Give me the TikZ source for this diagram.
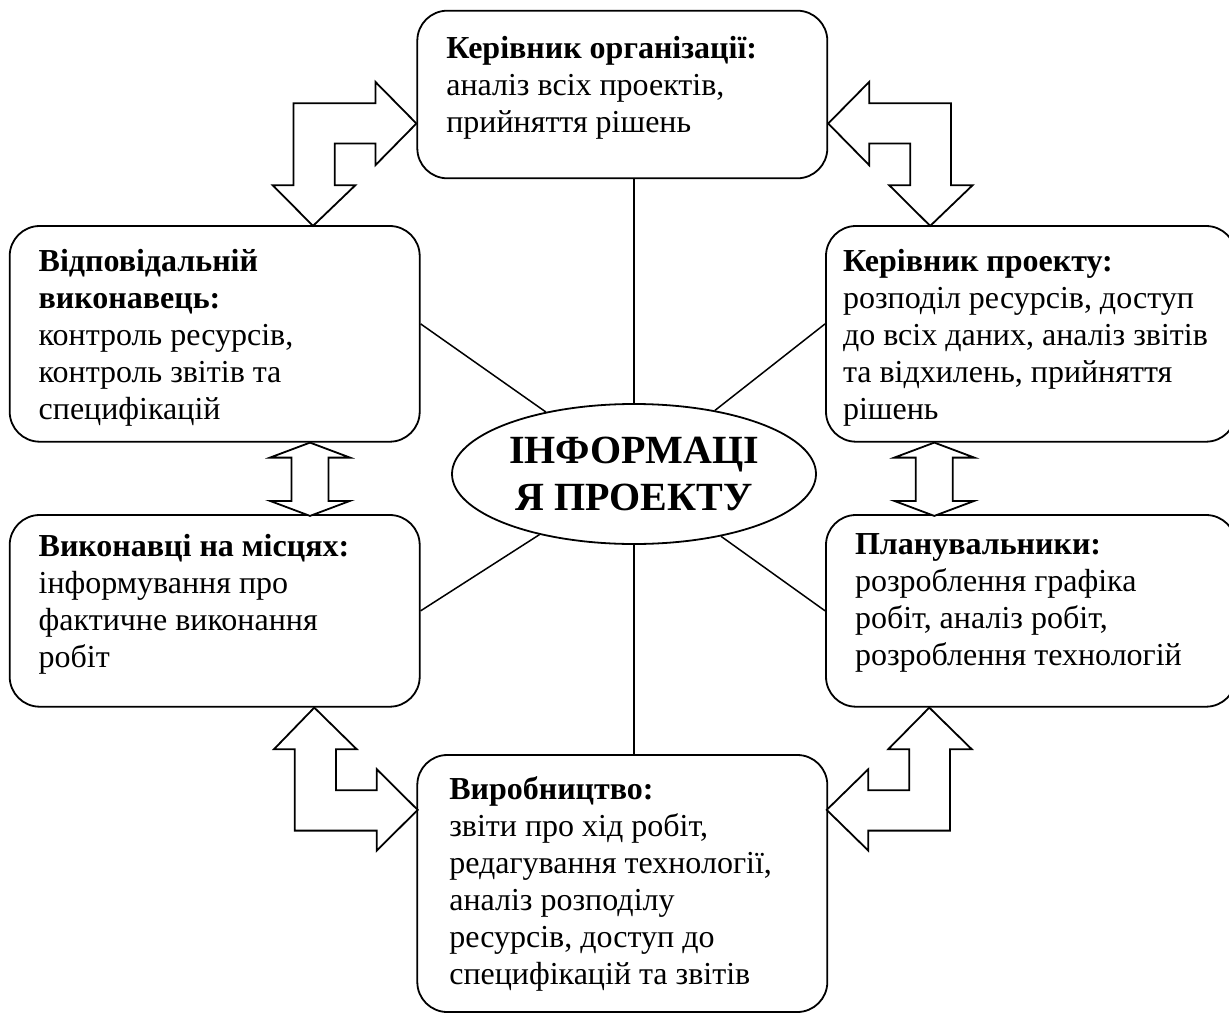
\documentclass[tikz,border=0pt]{standalone}
\usepackage{fontspec}
\setmainfont{Liberation Serif}
\usetikzlibrary{shapes.geometric}

% text of a box: top aligned, fixed height
\newcommand{\boxtxt}[3]{\parbox[t][#1][t]{#2}{\raggedright #3}}

\tikzset{
  roundbox/.style={draw, line width=1.8pt, rounded corners=30pt, fill=white,
    inner xsep=29pt, inner ysep=19pt, font=\fontsize{32}{37}\selectfont},
  spoke/.style={line width=1.5pt},
  blockarrow/.style={draw, line width=1.8pt, fill=white, line join=miter}
}

\begin{document}
\begin{tikzpicture}[x=1pt, y=-1pt]
    \useasboundingbox (0,0) rectangle (1229,1017);

    % Centre
    \node[ellipse, draw, line width=1.8pt, minimum width=364pt, minimum height=140pt,
      inner sep=0pt, align=center, font=\bfseries\fontsize{40}{47}\selectfont]
      (info) at (634,474) {ІНФОРМАЦІ\\Я ПРОЕКТУ};

    % Boxes
    \node[roundbox, inner ysep=26pt] (org) at (622.3,94.5)
      {\boxtxt{115.6pt}{352pt}{\textbf{Керівник організації:}\\ аналіз всіх проектів,\\ прийняття рішень}};
    \node[roundbox, inner ysep=23pt] (vidp) at (214.7,333.85)
      {\boxtxt{169.7pt}{352pt}{\textbf{Відповідальній}\\ \textbf{виконавець:}\\ контроль ресурсів,\\ контроль звітів та\\ специфікацій}};
    \node[roundbox, inner xsep=17pt, inner ysep=23pt] (kerpr) at (1031,333.85)
      {\boxtxt{169.7pt}{376pt}{\textbf{Керівник проекту:}\\ розподіл ресурсів, доступ\\ до всіх даних, аналіз звітів\\ та відхилень, прийняття\\ рішень}};
    \node[roundbox] (vykon) at (214.7,610.85)
      {\boxtxt{153.7pt}{352pt}{\textbf{Виконавці на місцях:}\\ інформування про\\ фактичне виконання\\ робіт}};
    \node[roundbox] (plan) at (1031,610.85)
      {\boxtxt{153.7pt}{352pt}{\textbf{Планувальники:}\\ розроблення графіка\\ робіт, аналіз робіт,\\ розроблення технологій}};
    \node[roundbox, inner xsep=32pt, inner ysep=22pt] (vyrob) at (622.3,883.5)
      {\boxtxt{213pt}{346pt}{\textbf{Виробництво:}\\ звіти про хід робіт,\\ редагування технології,\\ аналіз розподілу\\ ресурсів, доступ до\\ специфікацій та звітів}};

    % Spokes from the centre
    \draw[spoke] (info) -- (info |- org.south);
    \draw[spoke] (info) -- (info |- vyrob.north);
    \draw[spoke] (info) -- ([yshift=10pt]vidp.east);
    \draw[spoke] (info) -- ([yshift=10pt]kerpr.west);
    \draw[spoke] (info) -- (vykon.east);
    \draw[spoke] (info) -- (plan.west);

    % Block arrows, top
    \draw[blockarrow] ([yshift=-29pt]org.west) -- ++(-41,41.7) -- ++(0,-21.7) -- ++(-40.7,0)
      -- ++(0,41.7) -- ++(20.7,0) -- ++(-42.4,40.7) -- ++(-40.3,-40.7) -- ++(20.7,0)
      -- ++(0,-82) -- ++(82,0) -- ++(0,-21.3) -- cycle;
    \draw[blockarrow] ([yshift=-29pt]org.east) -- ++(41,41.7) -- ++(0,-21.7) -- ++(41,0)
      -- ++(0,41.7) -- ++(-21,0) -- ++(41,40.7) -- ++(42.4,-40.7) -- ++(-21.7,0)
      -- ++(0,-82) -- ++(-81.7,0) -- ++(0,-21.3) -- cycle;

    % Block arrows, middle
    \draw[blockarrow] ([xshift=95.3pt]vidp.south) -- ++(40,15) -- ++(-21.5,0) -- ++(0,43.3)
      -- ++(21.5,0) -- ++(-40,15) -- ++(-40,-15) -- ++(21.5,0) -- ++(0,-43.3)
      -- ++(-21.5,0) -- cycle;
    \draw[blockarrow] ([xshift=-96.7pt]kerpr.south) -- ++(40,15) -- ++(-21.5,0) -- ++(0,43.3)
      -- ++(21.5,0) -- ++(-40,15) -- ++(-40,-15) -- ++(21.5,0) -- ++(0,-43.3)
      -- ++(-21.5,0) -- cycle;

    % Block arrows, bottom
    \draw[blockarrow] ([xshift=99.6pt]vykon.south) -- ++(42.4,41.6) -- ++(-20.7,0) -- ++(0,41)
      -- ++(40.7,0) -- ++(0,-21) -- ++(41,40.7) -- ++(-41,40.7) -- ++(0,-20)
      -- ++(-82,0) -- ++(0,-81.4) -- ++(-20.7,0) -- cycle;
    \draw[blockarrow] ([xshift=-101.7pt]plan.south) -- ++(42.4,41.6) -- ++(-21.7,0) -- ++(0,81.4)
      -- ++(-81.7,0) -- ++(0,20) -- ++(-41.6,-40.7) -- ++(41.6,-40.7) -- ++(0,21)
      -- ++(41,0) -- ++(0,-41) -- ++(-21,0) -- cycle;
\end{tikzpicture}
\end{document}
